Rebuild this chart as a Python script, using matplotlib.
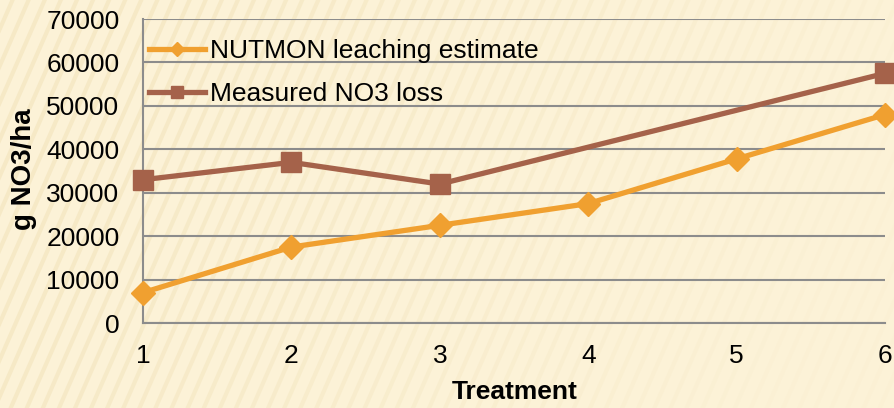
import numpy as np
import matplotlib.pyplot as plt
from matplotlib.lines import Line2D

plt.rcParams['font.family'] = ['Liberation Sans', 'DejaVu Sans']

treatment = [1, 2, 3, 4, 5, 6]
nutmon = [7000, 17500, 22500, 27500, 37800, 48000]
measured = [33000, 37000, 32000, None, None, 57500]

orange = '#F0A030'
brown = '#A5624A'
bg = '#FCF2D7'

fig = plt.figure(figsize=(8.94, 4.08), dpi=100, facecolor=bg)

# faint diagonal stripes in the background
for k in np.arange(-0.6, 1.2, 0.018):
    alpha = 0.35 * max(0.15, 1 - k)
    fig.add_artist(Line2D([k, k + 0.2], [0, 1], transform=fig.transFigure,
                          color='#EBD9A8', lw=3, alpha=min(alpha, 0.35), zorder=0))

ax = fig.add_axes([0.16, 0.2083, 0.83, 0.745])
ax.set_facecolor('none')

# measured series has gaps at 4 and 5; the line just joins the known points
mx = [t for t, v in zip(treatment, measured) if v is not None]
my = [v for v in measured if v is not None]

ax.plot(treatment, nutmon, color=orange, lw=3.8, marker='D', ms=12,
        label='NUTMON leaching estimate', clip_on=False, zorder=3)
ax.plot(mx, my, color=brown, lw=3.8, marker='s', ms=14,
        label='Measured NO3 loss', clip_on=False, zorder=3)

ax.set_xlim(1, 6)
ax.set_ylim(0, 70000)
ax.set_yticks(range(0, 70001, 10000))
ax.set_xticks(treatment)
ax.grid(axis='y', color='#8C8C8C', lw=1.5)
ax.set_axisbelow(True)
for s in ['top', 'right']:
    ax.spines[s].set_visible(False)
for s in ['left', 'bottom']:
    ax.spines[s].set_color('#8C8C8C')
    ax.spines[s].set_linewidth(1.5)
ax.tick_params(length=0, labelsize=19)
ax.tick_params(axis='y', pad=17)
ax.tick_params(axis='x', pad=15)

ax.set_xlabel('Treatment', fontsize=19, fontweight='bold', va='center')
ax.xaxis.set_label_coords(0.501, -0.227)
ax.set_ylabel('g NO3/ha', fontsize=20, fontweight='bold', va='center')
ax.yaxis.set_label_coords(-0.160, 0.507)

ax.legend(loc='upper left', bbox_to_anchor=(0.167, 0.905), bbox_transform=fig.transFigure,
          frameon=False, fontsize=19, handlelength=2.1, handletextpad=0.2,
          labelspacing=0.72, borderaxespad=0, markerscale=0.6, borderpad=0)

fig.savefig('out.png', dpi=100, facecolor=bg)
